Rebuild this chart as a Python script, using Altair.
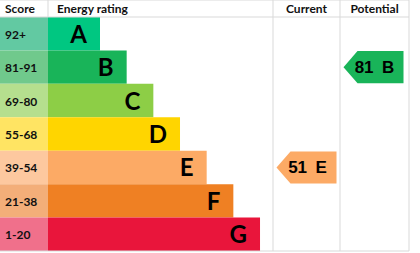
import altair as alt
import pandas as pd

# ---------------- data ----------------
bands = ["A", "B", "C", "D", "E", "F", "G"]
score_ranges = ["92+", "81-91", "69-80", "55-68", "39-54", "21-38", "1-20"]
band_min = [92, 81, 69, 55, 39, 21, 1]
bar_colors = ["#00c781", "#19b459", "#8dce46", "#ffd500", "#fcaa65", "#ef8023", "#e9153b"]
score_colors = ["#62c9a2", "#70c98c", "#b5df8e", "#ffe463", "#fdc89f", "#f3ae79", "#f0708b"]
headers = ["Score", "Energy rating", "Current", "Potential"]
rating_names = ["Current", "Potential"]
rating_values = [51, 81]

# ---------------- layout constants ----------------
W, H = 420, 253
SCORE_W = 48            # width of score column
BAR_END_FIRST = 100     # right end of band A bar
BAR_STEP = 26.67        # extra length per band
COL_EDGES = [273, 340, 409]   # vertical grid lines (current / potential columns)
HEADER_PX = 17
ROW_PX = 33.43
HDR = HEADER_PX / ROW_PX      # header height in row units
N = len(bands)
BOTTOM_PX = HEADER_PX + N * ROW_PX
ARROW_W = 60
ARROW_TIP = 14
ARROW_PAD = 3.5
INSET = 0.02

FONT = "Lato"
ARROW_FONT = "Liberation Sans"

xs = alt.Scale(domain=[0, W], range=[0, W], nice=False, zero=False)
ys = alt.Scale(domain=[-HDR, N], range=[0, BOTTOM_PX], nice=False, zero=False)

# ---------------- tables ----------------
rows = pd.DataFrame({
    "band": bands,
    "score": score_ranges,
    "bar_color": bar_colors,
    "score_color": score_colors,
})
rows["idx"] = range(N)
rows["y0"] = rows["idx"]
rows["y1"] = rows["idx"] + 1
rows["ym"] = rows["idx"] + 0.5
rows["x0"] = 0
rows["xs"] = SCORE_W
rows["xe"] = BAR_END_FIRST + rows["idx"] * BAR_STEP


def band_of(v):
    for i, m in enumerate(band_min):
        if v >= m:
            return i
    return N - 1


arrow_pts = []
arrow_lbl = []
for ci, (name, val) in enumerate(zip(rating_names, rating_values)):
    bi = band_of(val)
    left = COL_EDGES[ci] + ARROW_PAD
    top, bot = bi + INSET, bi + 1 - INSET
    mid = bi + 0.5
    col = bar_colors[bi]
    arrow_pts += [
        {"name": name, "x": left, "y0": mid, "y1": mid, "color": col},
        {"name": name, "x": left + ARROW_TIP, "y0": top, "y1": bot, "color": col},
        {"name": name, "x": left + ARROW_W, "y0": top, "y1": bot, "color": col},
    ]
    arrow_lbl.append({"x": left + ARROW_W / 2 + 1, "y": mid,
                      "label": f"{val}\u2002{bands[bi]}"})
arrow_pts = pd.DataFrame(arrow_pts)
arrow_lbl = pd.DataFrame(arrow_lbl)

hdr = pd.DataFrame({
    "label": headers,
    "x": [5, SCORE_W + 9, (COL_EDGES[0] + COL_EDGES[1]) / 2, (COL_EDGES[1] + COL_EDGES[2]) / 2],
    "align": ["left", "left", "center", "center"],
    "y": [-HDR / 2] * 4,
})

grid = pd.DataFrame([
    {"x": 0, "x2": COL_EDGES[2], "y": -HDR, "y2": -HDR},
    {"x": 0, "x2": COL_EDGES[2], "y": 0, "y2": 0},
    {"x": 0, "x2": COL_EDGES[2], "y": N, "y2": N},
    {"x": SCORE_W, "x2": SCORE_W, "y": -HDR, "y2": 0},
] + [{"x": e, "x2": e, "y": -HDR, "y2": N} for e in COL_EDGES])

# ---------------- layers ----------------
score_cells = alt.Chart(rows).mark_rect().encode(
    x=alt.X("x0:Q", scale=xs, axis=None), x2="xs:Q",
    y=alt.Y("y0:Q", scale=ys, axis=None), y2="y1:Q",
    color=alt.Color("score_color:N", scale=None),
)
bars = alt.Chart(rows).mark_rect().encode(
    x=alt.X("xs:Q", scale=xs, axis=None), x2="xe:Q",
    y=alt.Y("y0:Q", scale=ys, axis=None), y2="y1:Q",
    color=alt.Color("bar_color:N", scale=None),
)
letters = alt.Chart(rows).mark_text(
    font=FONT, fontWeight="bold", fontSize=24, align="right", baseline="middle",
    dx=-13, dy=2, color="#000000",
).encode(
    x=alt.X("xe:Q", scale=xs, axis=None),
    y=alt.Y("ym:Q", scale=ys, axis=None),
    text="band:N",
)
score_txt = alt.Chart(rows).mark_text(
    font=FONT, fontWeight="bold", fontSize=12, align="left", baseline="middle",
    dx=5, dy=1, color="#111111",
).encode(
    x=alt.X("x0:Q", scale=xs, axis=None),
    y=alt.Y("ym:Q", scale=ys, axis=None),
    text="score:N",
)
rules = alt.Chart(grid).mark_rule(color="#d9d9d9", strokeWidth=1).encode(
    x=alt.X("x:Q", scale=xs, axis=None), x2="x2:Q",
    y=alt.Y("y:Q", scale=ys, axis=None), y2="y2:Q",
)
hdr_left = alt.Chart(hdr[hdr["align"] == "left"]).mark_text(
    font=FONT, fontWeight="bold", fontSize=12, align="left", baseline="middle",
    color="#111111",
).encode(
    x=alt.X("x:Q", scale=xs, axis=None),
    y=alt.Y("y:Q", scale=ys, axis=None),
    text="label:N",
)
hdr_center = alt.Chart(hdr[hdr["align"] == "center"]).mark_text(
    font=FONT, fontWeight="bold", fontSize=12, align="center", baseline="middle",
    color="#111111",
).encode(
    x=alt.X("x:Q", scale=xs, axis=None),
    y=alt.Y("y:Q", scale=ys, axis=None),
    text="label:N",
)
arrows = alt.Chart(arrow_pts).mark_area(opacity=1, interpolate="linear").encode(
    x=alt.X("x:Q", scale=xs, axis=None),
    y=alt.Y("y0:Q", scale=ys, axis=None), y2="y1:Q",
    color=alt.Color("color:N", scale=None),
    detail="name:N",
)
arrow_text = alt.Chart(arrow_lbl).mark_text(
    font=ARROW_FONT, fontWeight="bold", fontSize=17, align="center", baseline="middle",
    dy=1, color="#000000",
).encode(
    x=alt.X("x:Q", scale=xs, axis=None),
    y=alt.Y("y:Q", scale=ys, axis=None),
    text="label:N",
)

chart = alt.layer(
    score_cells, bars, rules, letters, score_txt, hdr_left, hdr_center, arrows, arrow_text
).properties(
    width=W, height=H, padding=0, autosize="none", background="white",
).configure_view(stroke=None)

chart.save("out.html", embed_options={"renderer": "svg", "actions": False})
